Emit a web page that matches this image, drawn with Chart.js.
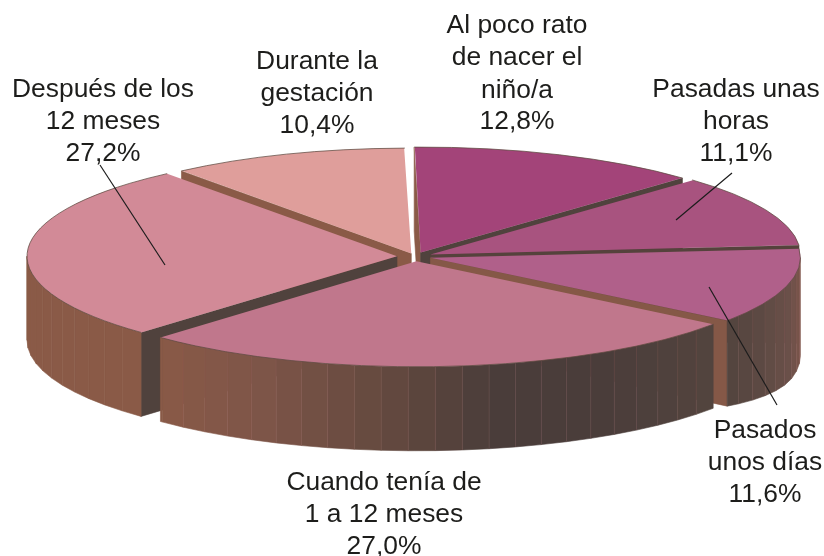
<!DOCTYPE html>
<html><head><meta charset="utf-8">
<style>html,body{margin:0;padding:0;background:#fff}#w{width:824px;height:556px}</style>
<script src="https://cdn.jsdelivr.net/npm/chart.js@4"></script>
</head><body><div id="w"><canvas id="c"></canvas></div>
<script>
const categories = ["Al poco rato de nacer el niño/a","Pasadas unas horas","Pasados unos días","Cuando tenía de 1 a 12 meses","Después de los 12 meses","Durante la gestación"];
const values = [12.8,11.1,11.6,27.0,27.2,10.4];
const topColors = ["#a34479","#a8537f","#b0608a","#c0778c","#d28a97","#df9e9b"];
const explode = [15,17,16,17,18,11];
const wallOrder = [5,0,1,4,2,3];
const labelLines = [
  {x:517,y:[26,58,91,122],t:["Al poco rato","de nacer el","niño/a","12,8%"]},
  {x:736,y:[90,122,154],t:["Pasadas unas","horas","11,1%"]},
  {x:765,y:[431,463,495],t:["Pasados","unos días","11,6%"]},
  {x:384,y:[483,515,547],t:["Cuando tenía de","1 a 12 meses","27,0%"]},
  {x:103,y:[90,122,154],t:["Después de los","12 meses","27,2%"]},
  {x:317,y:[62,94,126],t:["Durante la","gestación","10,4%"]}
];
const leaders = [[100,165,165,265],[732,173,676,220],[709,287,777,405]];
const wallStops = [[90,[130,87,75]],[105,[106,80,73]],[125,[84,69,63]],[150,[74,61,58]],[168,[74,61,58]],[185,[100,73,63]],[205,[126,85,72]],[225,[138,90,71]],[360,[138,90,71]]];
const R = 370, K = 0.285, CX = 415, CY = 256.5, STEP = 4.2, ROT = -1;

const depthAt = x => 84 + Math.min(14, Math.max(0, (x-720)*0.2));
function wallColor(n){
  n = ((n%360)+360)%360; if(n<90) n=90;
  for(let i=1;i<wallStops.length;i++){
    if(n<=wallStops[i][0]){
      const [a,ca]=wallStops[i-1],[b,cb]=wallStops[i],t=(n-a)/(b-a);
      return `rgb(${ca.map((v,j)=>Math.round(v+(cb[j]-v)*t)).join(",")})`;
    }
  }
  return "rgb(138,90,71)";
}
const toDeg = a => (a*180/Math.PI+90);
function quad(ctx,x1,y1,x2,y2,col,seam){
  ctx.beginPath();
  ctx.moveTo(x1,y1);ctx.lineTo(x2,y2);ctx.lineTo(x2,y2+depthAt(x2));ctx.lineTo(x1,y1+depthAt(x1));ctx.closePath();
  ctx.fillStyle=col;ctx.fill();
  ctx.strokeStyle=col;ctx.lineWidth=0.6;ctx.stroke();
  if(seam){ctx.beginPath();ctx.moveTo(x1,y1);ctx.lineTo(x1,y1+depthAt(x1));ctx.strokeStyle="rgba(165,105,105,.3)";ctx.lineWidth=0.7;ctx.stroke();}
}
function geom(a,i){
  const mid=(a.startAngle+a.endAngle)/2, d=explode[i];
  return {mid,ax:CX+Math.cos(mid)*d,ay:CY+Math.sin(mid)*d*K,
    px:t=>CX+Math.cos(mid)*d+Math.cos(t)*R, py:t=>CY+(Math.sin(mid)*d+Math.sin(t)*R)*K};
}
const pie3d = {
  id:"pie3d",
  beforeDatasetsDraw(chart){
    const ctx=chart.ctx, arcs=chart.getDatasetMeta(0).data;
    arcs.forEach((a,i)=>{ a.outerRadius = R - explode[i]*(1-Math.sin(Math.min(Math.PI,a.endAngle-a.startAngle))); });
    ctx.save();
    wallOrder.forEach(i=>{
      const a=arcs[i],g=geom(a,i);
      [[a.startAngle,-90],[a.endAngle,90]].forEach(([t,s])=>{
        const n=toDeg(t)+s, nn=((n%360)+360)%360;
        if(nn>90&&nn<270) quad(ctx,g.ax,g.ay,g.px(t),g.py(t),wallColor(nn),false);
      });
      const PI=Math.PI;
      for(let k=-1;k<=1;k++){
        const lo=Math.max(a.startAngle,k*2*PI),hi=Math.min(a.endAngle,k*2*PI+PI);
        if(hi<=lo) continue;
        let t=lo,first=true;
        while(t<hi-1e-6){
          const nx=Math.min(hi,t+STEP*PI/180);
          quad(ctx,g.px(t),g.py(t),g.px(nx),g.py(nx),wallColor(toDeg((t+nx)/2)),!first&&toDeg(t)<222);
          t=nx;first=false;
        }
      }
    });
    ctx.restore();
    ctx.save();
    const a0=arcs[0];
    ctx.translate(CX,CY);ctx.scale(1,K);ctx.translate(-a0.x,-a0.y);
  },
  afterDatasetsDraw(chart){
    const ctx=chart.ctx, arcs=chart.getDatasetMeta(0).data;
    ctx.restore();
    ctx.save();
    arcs.forEach((a,i)=>{
      const g=geom(a,i);
      ctx.beginPath();
      ctx.ellipse(g.ax,g.ay,R,R*K,0,a.startAngle,a.endAngle);
      ctx.strokeStyle="rgba(95,75,65,.75)";ctx.lineWidth=1;ctx.stroke();
    });
    ctx.strokeStyle="#1c1c1c";ctx.lineWidth=1.2;
    leaders.forEach(l=>{ctx.beginPath();ctx.moveTo(l[0],l[1]);ctx.lineTo(l[2],l[3]);ctx.stroke();});
    ctx.fillStyle="#1d1d1b";ctx.font="26.4px 'Liberation Sans'";ctx.textAlign="center";ctx.textBaseline="middle";
    labelLines.forEach(b=>b.t.forEach((s,j)=>ctx.fillText(s,b.x,b.y[j])));
    ctx.restore();
  }
};
new Chart(document.getElementById("c"),{
  type:"pie",
  data:{labels:categories,datasets:[{data:values,backgroundColor:topColors,borderWidth:0,offset:explode.map(d=>d*4),clip:false,radius:R}]},
  options:{responsive:true,maintainAspectRatio:false,animation:false,rotation:ROT,
    plugins:{legend:{display:false},tooltip:{enabled:false}}},
  plugins:[pie3d]
});
</script></body></html>
